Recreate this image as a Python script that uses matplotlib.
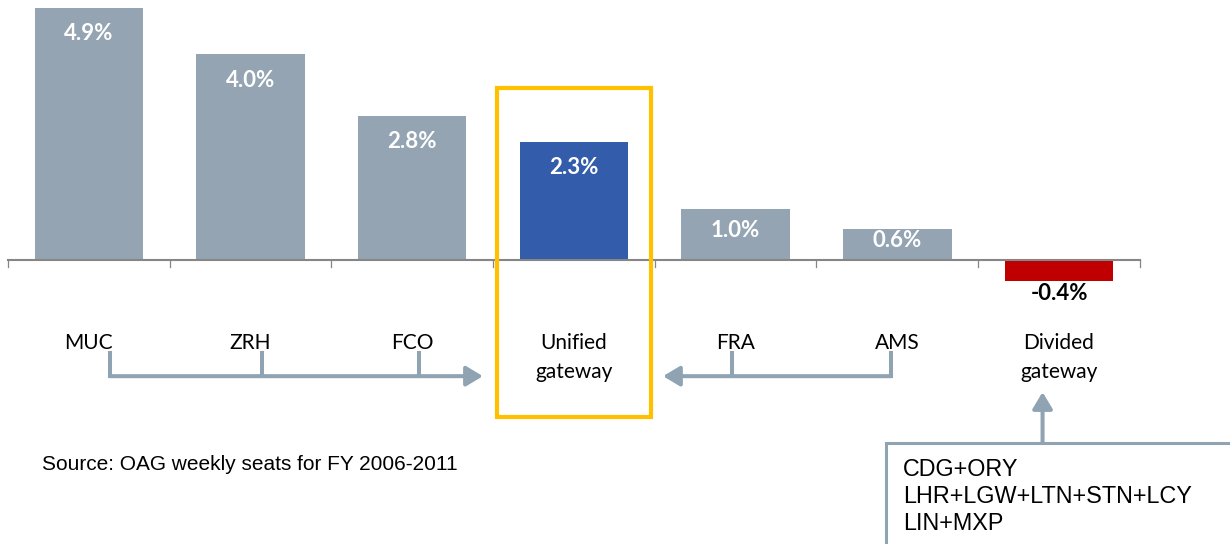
import matplotlib
matplotlib.use('Agg')
import matplotlib.pyplot as plt
import matplotlib.patches as patches
import numpy as np

# data
airports = ['MUC', 'ZRH', 'FCO', 'Unified\ngateway', 'FRA', 'AMS', 'Divided\ngateway']
growth = [4.9, 4.0, 2.8, 2.3, 1.0, 0.6, -0.4]
source_note = 'Source: OAG weekly seats for FY 2006-2011'
divided_list = ['CDG+ORY', 'LHR+LGW+LTN+STN+LCY', 'LIN+MXP']

GREY = '#94a4b2'
BLUE = '#335cab'
RED = '#c00000'
GOLD = '#ffc000'
ARROW = '#8fa3b3'
bar_colors = [GREY, GREY, GREY, BLUE, GREY, GREY, RED]

W, H = 1230, 544
fig = plt.figure(figsize=(W / 100, H / 100), dpi=100)
ax = fig.add_axes([0, 0, 1, 1])

# map: category -0.5 sits at 8px, one category = 161.7px; 0% at 260px, 1% = 51.4px
x0px, ux = 8, 161.7
y0px, uy = 260, 51.4
ax.set_xlim(-0.5 - x0px / ux, -0.5 + (W - x0px) / ux)
ax.set_ylim(-(H - y0px) / uy, y0px / uy)
ax.axis('off')

x = np.arange(len(airports))
vals = np.array(growth)
ax.bar(x, vals, width=0.67, color=bar_colors, zorder=2)

# baseline with boundary ticks
ax.plot([-0.5, len(airports) - 0.5], [0, 0], color='#868686', lw=1.5, zorder=3)
for b in np.arange(-0.5, len(airports), 1.0):
    ax.plot([b, b], [0, -7 / uy], color='#868686', lw=0.9, zorder=3)

# value labels
for xi, v in zip(x, vals):
    lab = f'{v:.1f}%'
    if v > 0:
        ax.text(xi, max(v - 0.5, v * 0.5 + 0.08), lab, ha='center', va='center',
                color='white', fontsize=16, fontweight='bold', family='Lato', zorder=4)
    else:
        ax.text(xi, v - 0.26, lab, ha='center', va='center',
                color='black', fontsize=16, fontweight='bold', family='Lato', zorder=4)

# category labels
for xi, name in zip(x, airports):
    ax.text(xi, -(333 - y0px) / uy, name, ha='center', va='top', fontsize=15,
            family='Lato', linespacing=1.55, color='black')

# gold frame round the unified gateway
ax.add_patch(patches.Rectangle((2.525, -3.05), 0.95, 6.4, fill=False,
                               edgecolor=GOLD, lw=3, zorder=5))

# bracket arrows
stub_top, stub_bot = -1.81, -2.26
left_stubs = [0.13, 1.07, 2.04]
right_stubs = [3.977, 4.96]
for s in left_stubs + right_stubs:
    ax.plot([s, s], [stub_top, stub_bot], color=ARROW, lw=2.9,
            solid_capstyle='projecting')
aprops = dict(arrowstyle='-|>,head_length=1.0,head_width=0.6', color=ARROW,
              lw=2.9, shrinkA=0, shrinkB=0, mutation_scale=10)
ax.annotate('', xy=(2.437, stub_bot), xytext=(left_stubs[0], stub_bot), arrowprops=aprops)
ax.annotate('', xy=(3.551, stub_bot), xytext=(right_stubs[-1], stub_bot), arrowprops=aprops)
ax.annotate('', xy=(5.898, -2.57), xytext=(5.898, -3.56), arrowprops=aprops)

# box listing split airports
ax.add_patch(patches.Rectangle((4.93, -8), 5, 8 - 3.56, fill=False,
                               edgecolor=ARROW, lw=2.2, zorder=5))
ax.text(5.035, -(458 - y0px) / uy, '\n'.join(divided_list), ha='left', va='top',
        fontsize=16.8, family='Liberation Sans', linespacing=1.23)

ax.text(-0.5 + (42 - x0px) / ux, -(464 - y0px) / uy, source_note, ha='left',
        va='center', fontsize=15, family='Liberation Sans')

fig.savefig('out.png', dpi=100)
